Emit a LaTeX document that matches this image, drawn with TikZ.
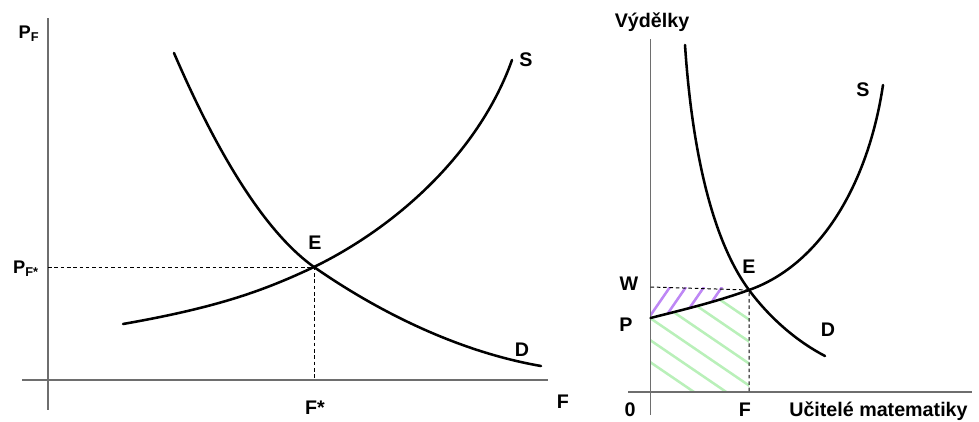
\documentclass[tikz,border=0pt]{standalone}
\usepackage{fontspec}
\setmainfont{Liberation Sans}
\usetikzlibrary{positioning}
\definecolor{axisgray}{HTML}{6E6E6E}
\definecolor{hatchgreen}{RGB}{185,240,185}
\definecolor{hatchpurple}{RGB}{190,135,245}

\begin{document}
\begin{tikzpicture}[
  x=0.025cm, y=-0.025cm,
  axis/.style={draw=axisgray, line width=1.3pt},
  curve/.style={line width=1.8pt, line cap=round},
  guide/.style={line width=0.7pt, dash pattern=on 2.5pt off 2pt},
  lbl/.style={font=\bfseries\fontsize{14}{16}\selectfont, inner sep=0pt},
  sublbl/.style={font=\bfseries\fontsize{13}{15}\selectfont, inner sep=0pt},
  hatch/.style={line width=1.8pt, #1}
]
  \useasboundingbox (0,0) rectangle (979,421);

  % Left market: axes
  \coordinate (lo) at (48,380);
  \draw[axis] (48,18) -- (48,410);
  \draw[axis] (22,380) -- (548,380);

  % Left market: equilibrium and guides
  \coordinate (le) at (314,267);
  \coordinate (ly) at (48,267);
  \coordinate (lx) at (314,380);
  \draw[guide] (ly) -- (le) -- (lx);

  % Left market: supply and demand
  \draw[curve] (123,324) .. controls (220,307) and (265,290) .. (le)
    .. controls (400,225) and (480,150) .. (512,60);
  \draw[curve] (174,53) .. controls (205,125) and (255,225) .. (le)
    .. controls (380,313) and (460,352) .. (541,366);

  % Left market: labels
  \node[sublbl] (pf) at (29,34) {P\textsubscript{F}};
  \node[sublbl] (pfs) at (26,269) {P\textsubscript{F*}};
  \node[lbl] (le-lbl) at (315,243) {E};
  \node[lbl] (ls-lbl) at (526,60) {S};
  \node[lbl] (ld-lbl) at (522,350) {D};
  \node[lbl] (lfs) at (315,408) {F*};
  \node[lbl] (lf) at (563,402) {F};

  % Right market: hatching
  \coordinate (re) at (749,290);
  \coordinate (rp) at (650.5,318);
  \coordinate (rw) at (650.5,287);
  \coordinate (rf) at (749,392);
  \begin{scope}
    \clip (650.5,392) -- (rp) .. controls (690,308) and (715,302) .. (re)
      -- (rf) -- cycle;
    \foreach \c in {252,274,296,318,340,362}
      \draw[hatch=hatchgreen] (650,\c) -- ++(110,75);
  \end{scope}
  \begin{scope}
    \clip (650.5,280) rectangle (728,330);
    \clip (rw) -- (749,287) -- (re) .. controls (715,302) and (690,308) .. (rp)
      -- cycle;
    \foreach \t in {670,686,704,722}
      \draw[hatch=hatchpurple] (\t,287) -- ++(-40,58);
  \end{scope}

  % Right market: axes
  \draw[axis] (650.5,39) -- (650.5,415);
  \draw[axis] (628,392) -- (972,392);

  % Right market: guides
  \draw[guide] (rw) -- (re) -- (rf);

  % Right market: supply and demand
  \draw[curve] (rp) .. controls (690,308) and (715,302) .. (re)
    .. controls (820,265) and (868,185) .. (883,85);
  \draw[curve] (685,45) .. controls (692,150) and (712,240) .. (re)
    .. controls (772,321) and (800,343) .. (825,356);

  % Right market: labels
  \node[lbl] (vyd) at (652,22) {Výdělky};
  \node[lbl] (rs-lbl) at (863,90) {S};
  \node[lbl] (re-lbl) at (749,267) {E};
  \node[lbl] (w-lbl) at (629,284) {W};
  \node[lbl] (p-lbl) at (626,325) {P};
  \node[lbl] (rd-lbl) at (828,330) {D};
  \node[lbl] (zero) at (630,410) {0};
  \node[lbl] (rf-lbl) at (745,410) {F};
  \node[lbl, anchor=west] (ucit) at (789,411) {Učitelé matematiky};
\end{tikzpicture}
\end{document}
